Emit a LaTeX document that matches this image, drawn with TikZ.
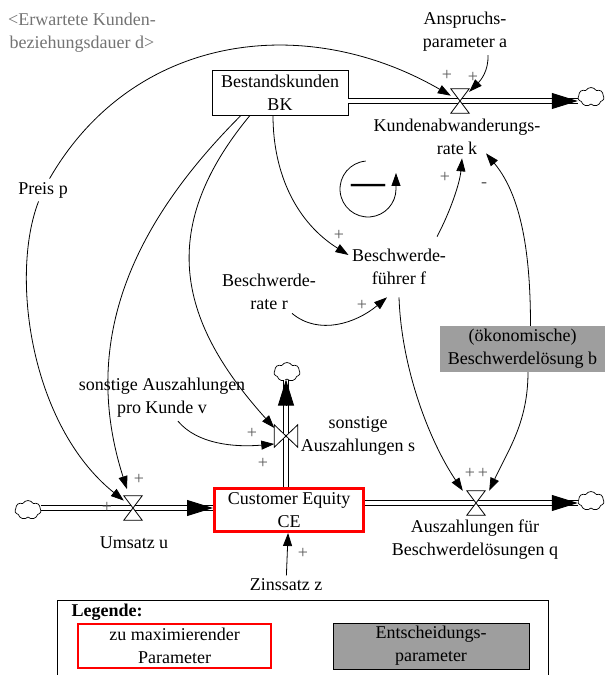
\documentclass[tikz,border=0pt]{standalone}
\usepackage{fontspec}
\setmainfont{Liberation Serif}
\usetikzlibrary{arrows.meta,shapes.symbols}

\tikzset{
  stock/.style={draw, line width=0.8pt, minimum width=136pt, minimum height=45pt, align=center, inner sep=0pt},
  target/.style={draw=red, line width=3pt, minimum width=149pt, minimum height=43pt, align=center, inner sep=0pt},
  decision/.style={fill=black!38, minimum height=46pt, align=center, inner sep=0pt},
  var/.style={align=center},
  valve/.style={minimum width=18pt, minimum height=24pt, inner sep=0pt},
  bowtie/.style={minimum width=23pt, minimum height=22pt, inner sep=0pt},
  sink/.style={cloud, cloud puffs=7, cloud puff arc=120, cloud ignores aspect, draw, line width=0.7pt,
    minimum width=26pt, minimum height=19pt, inner sep=0pt},
  pipe/.style={double, double distance=3.5pt, line width=0.9pt},
  pipetip/.style={-{Triangle[length=26pt,width=16pt]}, line width=0.9pt},
  link/.style={-{Triangle[length=13pt,width=9pt]}, line width=0.8pt},
  pol/.style={text=black!65, inner sep=0pt},
}

\begin{document}
\begin{tikzpicture}[x=1pt, y=1pt, font=\fontsize{18}{23}\selectfont]
\useasboundingbox (0,0) rectangle (605,675);
\clip (0,0) rectangle (605,675);

% stocks
\node[stock] (bk) at (280,582.5) {Bestandskunden\\BK};
\node[target] (ce) at (289,165) {Customer Equity\\CE};

% valves and clouds
\node[valve] (vk) at (460,574) {};
\node[valve] (vu) at (133,167) {};
\node[valve] (vq) at (476,172) {};
\node[bowtie] (vs) at (286,239) {};
\node[sink] (ck) at (591,578) {};
\node[sink] (cu) at (28,165) {};
\node[sink] (cq) at (591,174) {};
\node[sink] (cs) at (287,303) {};

% pipes
\coordinate (tk) at (ck.west |- vk);
\coordinate (tu) at (ce.west |- vu);
\coordinate (tq) at (cq.west |- vq);
\coordinate (ts) at (cs.south -| vs);
\draw[pipe] (bk.east |- vk) -- (tk);
\draw[pipe] (cu.east |- vu) -- (tu);
\draw[pipe] (ce.east |- vq) -- (tq);
\draw[pipe] (ce.north -| vs) -- (ts);
\draw[pipetip] ([xshift=-26pt]tk) -- (tk);
\draw[pipetip] ([xshift=-26pt]tu) -- (tu);
\draw[pipetip] ([xshift=-26pt]tq) -- (tq);
\draw[pipetip] ([yshift=-26pt]ts) -- (ts);
\foreach \v in {vk,vu,vq}
  \filldraw[fill=white, line width=0.8pt] (\v.north west) -- (\v.north east) -- (\v.south west) -- (\v.south east) -- cycle;
\filldraw[fill=white, line width=0.8pt] (vs.north west) -- (vs.south west) -- (vs.north east) -- (vs.south east) -- cycle;

% variables
\node[var, text=black!55] (dauer) at (82,642) {<Erwartete Kunden-\\beziehungsdauer d>};
\node[var] (anspruch) at (465,643) {Anspruchs-\\parameter a};
\node[var] (kr) at (457,538) {Kundenabwanderungs-\\rate k};
\node (loop) at (368,486) {\fontsize{34}{34}\bfseries —};
\node[var] (bf) at (399,408) {Beschwerde-\\führer f};
\node[var] (br) at (269,383) {Beschwerde-\\rate r};
\node[decision, minimum width=165pt] (bl) at (522.5,326) {(ökonomische)\\Beschwerdelösung b};
\node (preis) at (43,485) {Preis p};
\node[var] (spk) at (162,277) {sonstige Auszahlungen\\pro Kunde v};
\node[var] (sas) at (358,239) {sonstige\\Auszahlungen s};
\node (umsatz) at (134,132) {Umsatz u};
\node (zins) at (286,90) {Zinssatz z};
\node[var] (aq) at (475,135) {Auszahlungen für\\Beschwerdelösungen q};

% links
\draw[link] (preis) .. controls +(60:180) and +(150:180) .. (vk);
\draw[link] ([xshift=23pt]anspruch.south) to[out=-88, in=45] (vk);
\draw[link] (preis) .. controls +(-33,-85) and +(-103,83) .. (vu);
\draw[link, shorten >=7pt] ([xshift=-39pt]bk.south) .. controls +(-113,-113) and +(-52,163) .. (vu);
\draw[link] ([xshift=-30pt]bk.south) .. controls +(-96,-116) and +(-93.5,104) .. ([yshift=8pt]vs.west);
\draw[link] ([xshift=16pt]spk.south) .. controls +(-50:30) and +(185:40) .. ([yshift=-8pt]vs.west);
\draw[link] ([xshift=-7pt]bk.south) .. controls +(0,-60) and +(148:60) .. ([yshift=12pt]bf.west);
\draw[link] ([xshift=23pt]br.south) .. controls +(-40:35) and +(220:40) .. ([xshift=-12pt,yshift=-9pt]bf.south);
\draw[link] ([xshift=38pt,yshift=9pt]bf.north) .. controls +(62:28) and +(265:25) .. ([xshift=5pt]kr.south);
\draw[link] ([xshift=8pt]bl.north) .. controls +(90:60) and +(-50:60) .. ([xshift=29pt,yshift=5pt]kr.south);
\draw[link] ([xshift=5.5pt]bl.south) .. controls +(270:50) and +(65:45) .. ([xshift=4pt]vq.north east);
\draw[link] ([yshift=-9pt]bf.south) .. controls +(-88:73) and +(124:58) .. ([xshift=-4pt]vq.north west);
\draw[link] (zins) -- (ce);
\draw[link] ([shift={(95:28)}]loop.center) arc[start angle=95, end angle=360, radius=28] -- ++(0,16);

% polarities
\foreach \x/\y/\s [count=\i] in {447/600/+, 473/598/+, 445/498/+, 484/490/-, 339/440/+, 362/370/+,
    252/242/+, 263/212/+, 139/196/+, 107/168/+, 470/202/+, 483/202/+, 303/122/+}
  \node[pol] (pol\i) at (\x,\y) {\s};

% legend
\draw[line width=0.8pt] (57,-5) rectangle (548,75);
\node[anchor=west, font=\fontsize{18}{23}\selectfont\bfseries] (leg) at (68,63) {Legende:};
\node[target, line width=2.5pt, minimum width=193pt, minimum height=44pt] (legt) at (174.5,29) {zu maximierender\\Parameter};
\node[decision, draw, line width=0.8pt, minimum width=196pt] (legd) at (431,29) {Entscheidungs-\\parameter};
\end{tikzpicture}
\end{document}
